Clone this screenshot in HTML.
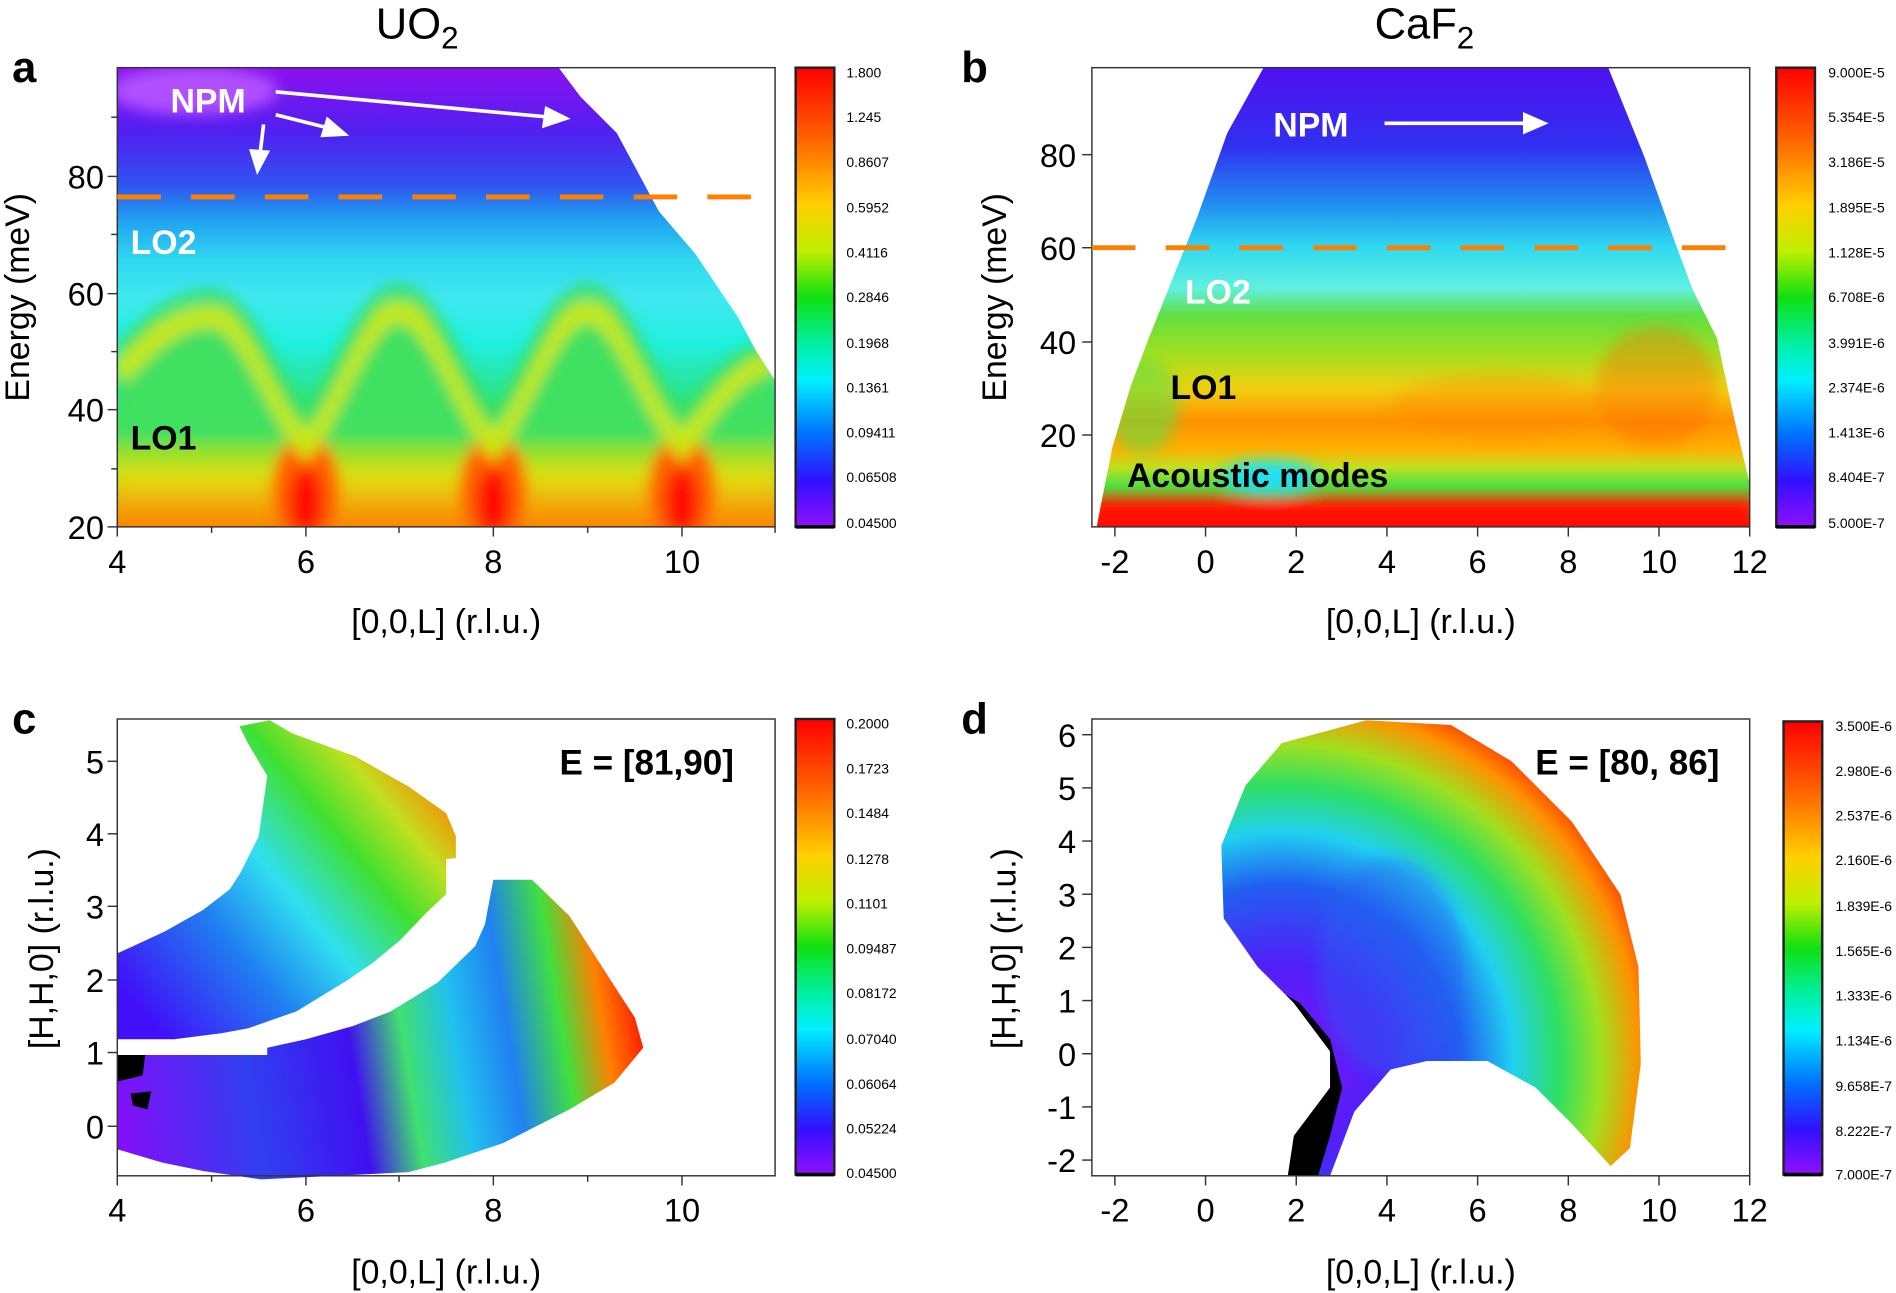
<!DOCTYPE html>
<html><head><meta charset="utf-8"><style>html,body{margin:0;padding:0;background:#fff}svg{display:block}text{font-family:"Liberation Sans",sans-serif}</style></head><body>
<svg width="1896" height="1293" viewBox="0 0 1568 1070" preserveAspectRatio="none" xmlns="http://www.w3.org/2000/svg">
<defs>
<linearGradient id="cbar" x1="0" y1="0" x2="0" y2="1">
<stop offset="0" stop-color="#ff0000"/><stop offset="0.15" stop-color="#ff6000"/><stop offset="0.3" stop-color="#ffd000"/><stop offset="0.4" stop-color="#c0f000"/><stop offset="0.5" stop-color="#10e010"/><stop offset="0.6" stop-color="#00f0a0"/><stop offset="0.68" stop-color="#00f0ff"/><stop offset="0.8" stop-color="#0070ff"/><stop offset="0.9" stop-color="#3010ff"/><stop offset="1" stop-color="#9010ff"/></linearGradient>
<linearGradient id="ga" x1="0" y1="56" x2="0" y2="436" gradientUnits="userSpaceOnUse">
<stop offset="0" stop-color="#8c10f0"/><stop offset="0.14" stop-color="#5020f0"/><stop offset="0.25" stop-color="#3050f0"/><stop offset="0.33" stop-color="#20a0f0"/><stop offset="0.42" stop-color="#30d8f0"/><stop offset="0.5" stop-color="#40e8f0"/><stop offset="0.6" stop-color="#20f0e0"/><stop offset="0.75" stop-color="#30e070"/><stop offset="0.88" stop-color="#c0e020"/><stop offset="1" stop-color="#ff8000"/></linearGradient>
<linearGradient id="gabot" x1="0" y1="360" x2="0" y2="436" gradientUnits="userSpaceOnUse">
<stop offset="0" stop-color="#60e040"/><stop offset="0.45" stop-color="#e0e010"/><stop offset="1" stop-color="#ff8000"/></linearGradient>
<linearGradient id="gb" x1="0" y1="56" x2="0" y2="436" gradientUnits="userSpaceOnUse">
<stop offset="0" stop-color="#5010f0"/><stop offset="0.17" stop-color="#3030f0"/><stop offset="0.3" stop-color="#2090f0"/><stop offset="0.39" stop-color="#30d8f0"/><stop offset="0.48" stop-color="#60f0e0"/><stop offset="0.54" stop-color="#60e040"/><stop offset="0.62" stop-color="#a0e020"/><stop offset="0.7" stop-color="#f0d010"/><stop offset="0.77" stop-color="#ff9000"/><stop offset="0.83" stop-color="#ffb000"/><stop offset="0.87" stop-color="#c0e020"/><stop offset="0.91" stop-color="#50e040"/><stop offset="0.96" stop-color="#ff3000"/><stop offset="1" stop-color="#ff0000"/></linearGradient>
<linearGradient id="gc1" x1="120" y1="840" x2="360" y2="640" gradientUnits="userSpaceOnUse">
<stop offset="0" stop-color="#4010f8"/><stop offset="0.3" stop-color="#2080f0"/><stop offset="0.5" stop-color="#30e0f0"/><stop offset="0.7" stop-color="#40e030"/><stop offset="0.85" stop-color="#c0e020"/><stop offset="1" stop-color="#ff8000"/></linearGradient>
<linearGradient id="gc2" x1="100" y1="920" x2="530" y2="850" gradientUnits="userSpaceOnUse">
<stop offset="0" stop-color="#8010f8"/><stop offset="0.25" stop-color="#3040f0"/><stop offset="0.45" stop-color="#4010f0"/><stop offset="0.55" stop-color="#40e070"/><stop offset="0.65" stop-color="#20c0f0"/><stop offset="0.75" stop-color="#2080f0"/><stop offset="0.85" stop-color="#40e040"/><stop offset="0.93" stop-color="#ff8000"/><stop offset="1" stop-color="#ff2000"/></linearGradient>
<radialGradient id="gd" cx="1060" cy="880" r="330" gradientUnits="userSpaceOnUse">
<stop offset="0" stop-color="#8010f8"/><stop offset="0.25" stop-color="#5020f8"/><stop offset="0.45" stop-color="#2060f0"/><stop offset="0.58" stop-color="#20d0f0"/><stop offset="0.7" stop-color="#30e060"/><stop offset="0.8" stop-color="#a0e020"/><stop offset="0.9" stop-color="#ff9000"/><stop offset="1" stop-color="#ff1000"/></radialGradient>
<filter id="bl" x="-10%" y="-10%" width="120%" height="120%"><feGaussianBlur stdDeviation="6"/></filter>
<clipPath id="ca"><polygon points="97,56 462,56 480,80 510,110 545,175 575,210 610,262 625,290 641,315 641,436 97,436"/></clipPath>
<clipPath id="cb"><polygon points="1045,56 1330,56 1360,130 1385,200 1400,240 1420,280 1435,350 1447,400 1447,436 907,436 912,410 920,370 935,320 950,280 970,230 990,180 1015,110"/></clipPath>
<clipPath id="cd"><polygon points="1130,596 1200,600 1250,630 1300,680 1340,740 1355,800 1357,880 1348,950 1332,965 1300,930 1270,900 1230,878 1180,878 1150,885 1120,920 1100,973 1065,973 1070,940 1100,900 1100,870 1070,830 1040,800 1012,760 1010,700 1030,650 1060,615"/></clipPath>
</defs>

<text x="345" y="32" font-size="36" text-anchor="middle">UO<tspan font-size="26" dy="8">2</tspan></text>
<text x="1178" y="32" font-size="36" text-anchor="middle">CaF<tspan font-size="26" dy="8">2</tspan></text>
<text x="10" y="68" font-size="36" font-weight="bold">a</text>
<text x="795" y="68" font-size="36" font-weight="bold">b</text>
<text x="10" y="607" font-size="36" font-weight="bold">c</text>
<text x="795" y="607" font-size="36" font-weight="bold">d</text>

<!-- Panel a -->
<g clip-path="url(#ca)">
<rect x="97" y="56" width="544" height="380" fill="url(#ga)"/>
<g filter="url(#bl)">
<ellipse cx="160" cy="75" rx="70" ry="20" fill="#b050ff"/>
<path d="M97,300 C130,270 150,252 175,252 C205,252 230,330 253,360 C275,330 300,248 330,248 C360,248 385,330 408,360 C430,330 455,248 486,248 C515,248 540,330 564,360 C585,330 610,290 641,300 L641,436 L97,436 Z" fill="#40e060"/>
<rect x="97" y="365" width="544" height="71" fill="url(#gabot)"/>
<ellipse cx="253" cy="405" rx="28" ry="45" fill="#ff6000"/>
<ellipse cx="408" cy="405" rx="28" ry="45" fill="#ff6000"/>
<ellipse cx="564" cy="405" rx="28" ry="45" fill="#ff6000"/>
<ellipse cx="253" cy="415" rx="14" ry="28" fill="#ff1000"/>
<ellipse cx="408" cy="415" rx="14" ry="28" fill="#ff1000"/>
<ellipse cx="564" cy="415" rx="14" ry="28" fill="#ff1000"/>
<path d="M97,310 C130,275 150,262 175,262 C205,262 230,340 253,368 C275,340 300,258 330,258 C360,258 385,340 408,368 C430,340 455,258 486,258 C515,258 540,340 564,368 C585,340 610,300 641,300" fill="none" stroke="#c8e818" stroke-width="18"/>
<path d="M97,292 C130,257 150,245 175,245 C205,245 230,322 253,348 C275,322 300,240 330,240 C360,240 385,322 408,348 C430,322 455,240 486,240 C515,240 540,322 564,348 C585,322 610,287 641,287" fill="none" stroke="#30e060" stroke-width="10"/>
</g>
</g>
<rect x="97" y="56" width="544" height="380" fill="none" stroke="#333" stroke-width="1.2"/>
<line x1="97" y1="163" x2="632" y2="163" stroke="#ff8000" stroke-width="4" stroke-dasharray="36,25"/>
<g stroke="#fff" stroke-width="3" fill="#fff">
<line x1="228" y1="76" x2="455" y2="97"/><polygon points="468,98 452,90 450,104"/>
<line x1="228" y1="95" x2="272" y2="106"/><polygon points="285,111 271,99 267,112"/>
<line x1="218" y1="103" x2="215" y2="128"/><polygon points="213,141 208,125 221,126"/>
</g>
<text x="141" y="93" font-size="28" font-weight="bold" fill="#fff">NPM</text>
<text x="108" y="210" font-size="28" font-weight="bold" fill="#fff">LO2</text>
<text x="108" y="372" font-size="28" font-weight="bold" fill="#000">LO1</text>
<g stroke="#333" stroke-width="1.2">
<line x1="97" y1="436" x2="97" y2="444"/><line x1="253" y1="436" x2="253" y2="444"/><line x1="408" y1="436" x2="408" y2="444"/><line x1="564" y1="436" x2="564" y2="444"/>
<line x1="175" y1="436" x2="175" y2="441"/><line x1="330" y1="436" x2="330" y2="441"/><line x1="486" y1="436" x2="486" y2="441"/><line x1="641" y1="436" x2="641" y2="441"/>
<line x1="89" y1="436" x2="97" y2="436"/><line x1="89" y1="339" x2="97" y2="339"/><line x1="89" y1="243" x2="97" y2="243"/><line x1="89" y1="146" x2="97" y2="146"/>
<line x1="92" y1="388" x2="97" y2="388"/><line x1="92" y1="291" x2="97" y2="291"/><line x1="92" y1="194" x2="97" y2="194"/><line x1="92" y1="97" x2="97" y2="97"/>
</g>
<g font-size="27" text-anchor="middle"><text x="97" y="474">4</text><text x="253" y="474">6</text><text x="408" y="474">8</text><text x="564" y="474">10</text></g>
<g font-size="27" text-anchor="end"><text x="86" y="446">20</text><text x="86" y="349">40</text><text x="86" y="253">60</text><text x="86" y="156">80</text></g>
<text x="369" y="524" font-size="28" text-anchor="middle">[0,0,L] (r.l.u.)</text>
<text transform="translate(24,246) rotate(-90)" font-size="28" text-anchor="middle">Energy (meV)</text>
<rect x="658" y="56" width="32" height="380" fill="url(#cbar)" stroke="#222" stroke-width="2"/>
<line x1="658" y1="436" x2="690" y2="436" stroke="#000" stroke-width="3"/>
<g font-size="11.5"><text x="700" y="64">1.800</text><text x="700" y="101">1.245</text><text x="700" y="138">0.8607</text><text x="700" y="176">0.5952</text><text x="700" y="213">0.4116</text><text x="700" y="250">0.2846</text><text x="700" y="288">0.1968</text><text x="700" y="325">0.1361</text><text x="700" y="362">0.09411</text><text x="700" y="399">0.06508</text><text x="700" y="437">0.04500</text></g>

<!-- Panel b -->
<g clip-path="url(#cb)">
<rect x="903" y="56" width="544" height="380" fill="url(#gb)"/>
<g filter="url(#bl)">
<ellipse cx="1370" cy="320" rx="50" ry="50" fill="#ff6000" opacity="0.35"/>
<ellipse cx="1240" cy="335" rx="90" ry="25" fill="#ff8000" opacity="0.3"/>
<ellipse cx="945" cy="335" rx="30" ry="40" fill="#60e040" opacity="0.6"/>
<ellipse cx="1050" cy="395" rx="40" ry="14" fill="#20e0f0"/>
<rect x="903" y="418" width="544" height="18" fill="#ff1000"/>
</g>
</g>
<rect x="903" y="56" width="544" height="380" fill="none" stroke="#333" stroke-width="1.2"/>
<line x1="903" y1="205" x2="1440" y2="205" stroke="#ff8000" stroke-width="4" stroke-dasharray="36,25"/>
<g stroke="#fff" stroke-width="3" fill="#fff"><line x1="1145" y1="102" x2="1262" y2="102"/><polygon points="1277,102 1261,95 1261,109"/></g>
<text x="1053" y="113" font-size="28" font-weight="bold" fill="#fff">NPM</text>
<text x="980" y="251" font-size="28" font-weight="bold" fill="#fff">LO2</text>
<text x="968" y="330" font-size="28" font-weight="bold" fill="#000">LO1</text>
<text x="932" y="403" font-size="28" font-weight="bold" fill="#000">Acoustic modes</text>
<g stroke="#333" stroke-width="1.2">
<line x1="922" y1="436" x2="922" y2="444"/><line x1="997" y1="436" x2="997" y2="444"/><line x1="1072" y1="436" x2="1072" y2="444"/><line x1="1147" y1="436" x2="1147" y2="444"/><line x1="1222" y1="436" x2="1222" y2="444"/><line x1="1297" y1="436" x2="1297" y2="444"/><line x1="1372" y1="436" x2="1372" y2="444"/><line x1="1447" y1="436" x2="1447" y2="444"/>
<line x1="895" y1="360" x2="903" y2="360"/><line x1="895" y1="283" x2="903" y2="283"/><line x1="895" y1="205" x2="903" y2="205"/><line x1="895" y1="128" x2="903" y2="128"/>
</g>
<g font-size="27" text-anchor="middle"><text x="922" y="474">-2</text><text x="997" y="474">0</text><text x="1072" y="474">2</text><text x="1147" y="474">4</text><text x="1222" y="474">6</text><text x="1297" y="474">8</text><text x="1372" y="474">10</text><text x="1447" y="474">12</text></g>
<g font-size="27" text-anchor="end"><text x="890" y="370">20</text><text x="890" y="293">40</text><text x="890" y="215">60</text><text x="890" y="138">80</text></g>
<text x="1175" y="524" font-size="28" text-anchor="middle">[0,0,L] (r.l.u.)</text>
<text transform="translate(832,246) rotate(-90)" font-size="28" text-anchor="middle">Energy (meV)</text>
<rect x="1469" y="56" width="32" height="380" fill="url(#cbar)" stroke="#222" stroke-width="2"/>
<line x1="1469" y1="436" x2="1501" y2="436" stroke="#000" stroke-width="3"/>
<g font-size="11.5"><text x="1512" y="64">9.000E-5</text><text x="1512" y="101">5.354E-5</text><text x="1512" y="138">3.186E-5</text><text x="1512" y="176">1.895E-5</text><text x="1512" y="213">1.128E-5</text><text x="1512" y="250">6.708E-6</text><text x="1512" y="288">3.991E-6</text><text x="1512" y="325">2.374E-6</text><text x="1512" y="362">1.413E-6</text><text x="1512" y="399">8.404E-7</text><text x="1512" y="437">5.000E-7</text></g>

<!-- Panel c -->
<polygon points="198,601 223,596 242,607 294,626 338,651 369,673 377,692 377,710 369,711 369,740 353,755 331,778 308,797 286,812 245,837 205,851 183,855 144,860 97,860 97,789 136,771 168,753 190,736 199,722 214,692 221,642 205,615" fill="url(#gc1)"/>
<polygon points="97,873 221,873 221,867 253,860 292,849 323,837 362,813 393,783 401,765 408,728 440,728 471,758 512,822 525,842 532,867 508,896 471,918 416,946 368,962 338,970 216,976 168,969 134,962 97,951" fill="url(#gc2)"/>
<path d="M97,873 L120,873 L118,890 L97,895 Z M108,905 L125,903 L122,918 L110,915 Z" fill="#000"/>
<rect x="97" y="595" width="544" height="378" fill="none" stroke="#333" stroke-width="1.2"/>
<text x="607" y="641" font-size="29" font-weight="bold" text-anchor="end">E = [81,90]</text>
<g stroke="#333" stroke-width="1.2">
<line x1="97" y1="973" x2="97" y2="981"/><line x1="253" y1="973" x2="253" y2="981"/><line x1="408" y1="973" x2="408" y2="981"/><line x1="564" y1="973" x2="564" y2="981"/>
<line x1="175" y1="973" x2="175" y2="978"/><line x1="330" y1="973" x2="330" y2="978"/><line x1="486" y1="973" x2="486" y2="978"/>
<line x1="89" y1="932" x2="97" y2="932"/><line x1="89" y1="871" x2="97" y2="871"/><line x1="89" y1="811" x2="97" y2="811"/><line x1="89" y1="750" x2="97" y2="750"/><line x1="89" y1="690" x2="97" y2="690"/><line x1="89" y1="630" x2="97" y2="630"/>
</g>
<g font-size="27" text-anchor="middle"><text x="97" y="1011">4</text><text x="253" y="1011">6</text><text x="408" y="1011">8</text><text x="564" y="1011">10</text></g>
<g font-size="27" text-anchor="end"><text x="86" y="942">0</text><text x="86" y="881">1</text><text x="86" y="821">2</text><text x="86" y="760">3</text><text x="86" y="700">4</text><text x="86" y="640">5</text></g>
<text x="369" y="1062" font-size="28" text-anchor="middle">[0,0,L] (r.l.u.)</text>
<text transform="translate(44,785) rotate(-90)" font-size="28" text-anchor="middle">[H,H,0] (r.l.u.)</text>
<rect x="658" y="595" width="32" height="377" fill="url(#cbar)" stroke="#222" stroke-width="2"/>
<line x1="658" y1="972" x2="690" y2="972" stroke="#000" stroke-width="3"/>
<g font-size="11.5"><text x="700" y="603">0.2000</text><text x="700" y="640">0.1723</text><text x="700" y="677">0.1484</text><text x="700" y="715">0.1278</text><text x="700" y="752">0.1101</text><text x="700" y="789">0.09487</text><text x="700" y="826">0.08172</text><text x="700" y="864">0.07040</text><text x="700" y="901">0.06064</text><text x="700" y="938">0.05224</text><text x="700" y="975">0.04500</text></g>

<!-- Panel d -->
<g clip-path="url(#cd)">
<rect x="1000" y="590" width="370" height="390" fill="url(#gd)"/>
<g filter="url(#bl)"><ellipse cx="1150" cy="800" rx="60" ry="90" fill="#2060f0" opacity="0.4"/></g>
<path d="M1040,810 L1075,830 L1100,860 L1110,900 L1100,940 L1090,973 L1065,973 L1070,940 L1090,900 L1085,870 L1060,840 Z" fill="#000"/>
</g>
<rect x="903" y="595" width="544" height="378" fill="none" stroke="#333" stroke-width="1.2"/>
<text x="1422" y="641" font-size="29" font-weight="bold" text-anchor="end">E = [80, 86]</text>
<g stroke="#333" stroke-width="1.2">
<line x1="922" y1="973" x2="922" y2="981"/><line x1="997" y1="973" x2="997" y2="981"/><line x1="1072" y1="973" x2="1072" y2="981"/><line x1="1147" y1="973" x2="1147" y2="981"/><line x1="1222" y1="973" x2="1222" y2="981"/><line x1="1297" y1="973" x2="1297" y2="981"/><line x1="1372" y1="973" x2="1372" y2="981"/><line x1="1447" y1="973" x2="1447" y2="981"/>
<line x1="895" y1="608" x2="903" y2="608"/><line x1="895" y1="652" x2="903" y2="652"/><line x1="895" y1="696" x2="903" y2="696"/><line x1="895" y1="740" x2="903" y2="740"/><line x1="895" y1="784" x2="903" y2="784"/><line x1="895" y1="828" x2="903" y2="828"/><line x1="895" y1="872" x2="903" y2="872"/><line x1="895" y1="916" x2="903" y2="916"/><line x1="895" y1="960" x2="903" y2="960"/>
</g>
<g font-size="27" text-anchor="middle"><text x="922" y="1011">-2</text><text x="997" y="1011">0</text><text x="1072" y="1011">2</text><text x="1147" y="1011">4</text><text x="1222" y="1011">6</text><text x="1297" y="1011">8</text><text x="1372" y="1011">10</text><text x="1447" y="1011">12</text></g>
<g font-size="27" text-anchor="end"><text x="890" y="618">6</text><text x="890" y="662">5</text><text x="890" y="706">4</text><text x="890" y="750">3</text><text x="890" y="794">2</text><text x="890" y="838">1</text><text x="890" y="882">0</text><text x="890" y="926">-1</text><text x="890" y="970">-2</text></g>
<text x="1175" y="1062" font-size="28" text-anchor="middle">[0,0,L] (r.l.u.)</text>
<text transform="translate(840,785) rotate(-90)" font-size="28" text-anchor="middle">[H,H,0] (r.l.u.)</text>
<rect x="1475" y="597" width="32" height="375" fill="url(#cbar)" stroke="#222" stroke-width="2"/>
<line x1="1475" y1="972" x2="1507" y2="972" stroke="#000" stroke-width="3"/>
<g font-size="11.5"><text x="1518" y="605">3.500E-6</text><text x="1518" y="642">2.980E-6</text><text x="1518" y="679">2.537E-6</text><text x="1518" y="716">2.160E-6</text><text x="1518" y="754">1.839E-6</text><text x="1518" y="791">1.565E-6</text><text x="1518" y="828">1.333E-6</text><text x="1518" y="865">1.134E-6</text><text x="1518" y="903">9.658E-7</text><text x="1518" y="940">8.222E-7</text><text x="1518" y="976">7.000E-7</text></g>
</svg>
</body></html>
